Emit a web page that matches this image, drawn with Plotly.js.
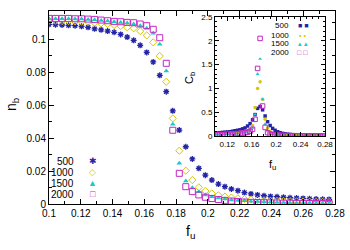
<!DOCTYPE html>
<html><head><meta charset="utf-8">
<script src="https://cdn.plot.ly/plotly-3.0.1.min.js"></script>
<style>html,body{margin:0;padding:0;background:#fff}#chart{width:350px;height:250px}</style>
</head><body><div id="chart"></div>
<script>
// f_u values (main plot and inset)
const fu = [0.1,0.1041,0.1082,0.1123,0.1164,0.1205,0.1246,0.1287,0.1328,0.1369,
            0.141,0.1451,0.1492,0.1533,0.1574,0.1615,0.1656,0.1697,0.1738,0.1779,
            0.182,0.1861,0.1902,0.1943,0.1984,0.2025,0.2066,0.2107,0.2148,0.2189,
            0.223,0.2271,0.2312,0.2353,0.2394,0.2435,0.2476,0.2517,0.2558,0.2599,
            0.264,0.2681,0.2722,0.2763];
// n_b for each size
const nb500 = [0.1089,0.1087,0.1085,0.1083,0.1081,0.1077,0.1071,0.1062,0.1056,0.1048,
               0.1041,0.1028,0.1012,0.0992,0.0962,0.0919,0.0861,0.0780,0.0681,0.0565,
               0.0448,0.0347,0.0273,0.0216,0.0175,0.0145,0.0121,0.0105,0.0091,0.0081,
               0.0069,0.0061,0.0055,0.0050,0.0046,0.0044,0.0041,0.0038,0.0036,0.0034,
               0.0032,0.0030,0.0029,0.0028];
const nb1000 = [0.1111,0.1111,0.1109,0.1109,0.1107,0.1105,0.1103,0.1099,0.1095,0.1091,
                0.1085,0.1079,0.1071,0.1065,0.1048,0.1022,0.0980,0.0897,0.0741,0.0519,
                0.0323,0.0202,0.0145,0.0101,0.0079,0.0064,0.0053,0.0045,0.0039,0.0034,
                0.0030,0.0027,0.0024,0.0022,0.0020,0.0019,0.0018,0.0017,0.0016,0.0015,
                0.0014,0.0013,0.0013,0.0012];
const nb1500 = [0.1123,0.1123,0.1123,0.1123,0.1121,0.1121,0.1119,0.1117,0.1113,0.1109,
                0.1105,0.1101,0.1097,0.1091,0.1081,0.1065,0.1035,0.0968,0.0806,0.0483,
                0.0247,0.0139,0.0099,0.0075,0.0055,0.0044,0.0036,0.0030,0.0025,0.0022,
                0.0019,0.0016,0.0015,0.0013,0.0012,0.0010,0.0009,0.0008,0.0008,0.0007,
                0.0007,0.0006,0.0006,0.0006];
const nb2000 = [0.1125,0.1125,0.1125,0.1125,0.1123,0.1123,0.1121,0.1119,0.1115,0.1111,
                0.1107,0.1105,0.1101,0.1099,0.1091,0.1081,0.1059,0.1008,0.0853,0.0447,
                0.0186,0.0105,0.0075,0.0055,0.0041,0.0033,0.0027,0.0022,0.0018,0.0015,
                0.0012,0.0010,0.0009,0.0008,0.0007,0.0006,0.0005,0.0005,0.0004,0.0004,
                0.0003,0.0003,0.0003,0.0003];
// C_b (inset)
const cb500 = [0.06,0.065,0.07,0.075,0.08,0.085,0.09,0.10,0.11,0.12,
               0.13,0.15,0.17,0.21,0.26,0.34,0.45,0.58,0.62,0.55,
               0.42,0.30,0.22,0.16,0.12,0.09,0.07,0.055,0.045,0.038,
               0.032,0.027,0.023,0.020,0.018,0.016,0.014,0.013,0.012,0.011,
               0.010,0.009,0.009,0.008];
const cb1000 = [0.04,0.042,0.045,0.048,0.05,0.053,0.056,0.06,0.065,0.07,
                0.077,0.085,0.095,0.11,0.14,0.22,0.60,1.00,1.14,0.77,
                0.35,0.17,0.09,0.06,0.045,0.035,0.028,0.023,0.019,0.016,
                0.014,0.012,0.011,0.010,0.009,0.008,0.007,0.007,0.006,0.006,
                0.005,0.005,0.005,0.004];
const cb1500 = [0.03,0.032,0.034,0.036,0.038,0.04,0.043,0.046,0.05,0.055,
                0.06,0.067,0.075,0.09,0.12,0.17,0.45,1.30,1.62,0.77,
                0.25,0.11,0.06,0.04,0.03,0.024,0.02,0.017,0.014,0.012,
                0.011,0.01,0.009,0.008,0.007,0.006,0.006,0.005,0.005,0.004,
                0.004,0.004,0.003,0.003];
const cb2000 = [0.025,0.027,0.029,0.031,0.033,0.035,0.038,0.041,0.045,0.05,
                0.055,0.06,0.068,0.08,0.10,0.14,0.35,1.42,2.05,0.63,
                0.18,0.07,0.04,0.03,0.022,0.018,0.015,0.012,0.01,0.009,
                0.008,0.007,0.006,0.005,0.005,0.004,0.004,0.003,0.003,0.003,
                0.002,0.002,0.002,0.002];
const sizes = ['500','1000','1500','2000'];
const mainX = 'f<sub>u</sub>', mainY = 'n<sub>b</sub>', insetY = 'C<sub>b</sub>';

const colors = ['#2424a8','#d8c600','#1ec8c8','#c426c4'];
const nbAll = [nb500, nb1000, nb1500, nb2000];
const cbAll = [cb500, cb1000, cb1500, cb2000];
const mainSym = [
  {symbol:'asterisk-open', size:5, lw:1.3},
  {symbol:'diamond-open', size:5.5, lw:1},
  {symbol:'triangle-up', size:5, lw:0},
  {symbol:'square-open', size:6, lw:1}
];
const insetSym = [
  {symbol:'square', size:3.5, lw:0},
  {symbol:'circle', size:3.5, lw:0},
  {symbol:'triangle-up', size:3.5, lw:0},
  {symbol:'square-open', size:4.5, lw:1}
];
const traces = [];
for (let k = 0; k < 4; k++) {
  traces.push({x: fu, y: nbAll[k], xaxis:'x', yaxis:'y', mode:'markers', name:sizes[k],
    marker:{symbol:mainSym[k].symbol, size:mainSym[k].size, color:colors[k],
            line:{color:colors[k], width:mainSym[k].lw}}});
}
for (let k = 0; k < 4; k++) {
  traces.push({x: fu, y: cbAll[k], xaxis:'x2', yaxis:'y2', mode:'markers', name:sizes[k],
    marker:{symbol:insetSym[k].symbol, size:insetSym[k].size, color:colors[k],
            line:{color:colors[k], width:insetSym[k].lw}}});
}

const ax = {showgrid:false, zeroline:false, showline:true, linecolor:'#000', linewidth:1,
  ticks:'inside', tickcolor:'#000', mirror:'allticks'};
function P(px){return (px-49)/286;}
function Q(py){return (204-py)/193;}
function A(text, px, py, opts){
  return Object.assign({text:text, x:P(px), y:Q(py), xref:'paper', yref:'paper',
    xanchor:'center', yanchor:'middle', showarrow:false}, opts);
}
const ann = [];
ann.push(A(mainY, 12, 104, {textangle:-90, font:{size:14}}));
ann.push(A(mainX, 190, 232, {font:{size:14}}));
ann.push(A(insetY, 190, 78, {textangle:-90, font:{size:11}}));
ann.push(A(mainX, 272, 165, {font:{size:11}}));
const legGlyph = ['✱','◇','▲','□'];
const legRows = [161, 172.3, 183.3, 194.3];
const insGlyph = ['■ ■','• •','▴ ▴','□ □'];
const insRows = [25.7, 35, 43.3, 52.3];
for (let k = 0; k < 4; k++) {
  ann.push(A(sizes[k], 76, legRows[k], {xanchor:'right', font:{size:10}}));
  ann.push(A(legGlyph[k], 92.7, legRows[k], {font:{size:9, color:colors[k]}}));
  ann.push(A(sizes[k], 291, insRows[k], {xanchor:'right', font:{size:8}}));
  ann.push(A(insGlyph[k], 302.5, insRows[k], {font:{size:7, color:colors[k]}}));
}

const layout = {
  width:350, height:250, margin:{l:49, r:15, t:11, b:46},
  paper_bgcolor:'#fff', plot_bgcolor:'#fff', showlegend:false,
  font:{family:'Liberation Sans, Arial, sans-serif', size:10, color:'#000'},
  xaxis:Object.assign({}, ax, {range:[0.1,0.28], tick0:0.1, dtick:0.02, ticklen:5, tickfont:{size:10},
    minor:{dtick:0.01, ticks:'inside', ticklen:3, tickcolor:'#000', showgrid:false}}),
  yaxis:Object.assign({}, ax, {range:[0,0.117], tick0:0, dtick:0.02, ticklen:5, tickfont:{size:10},
    minor:{dtick:0.01, ticks:'inside', ticklen:3, tickcolor:'#000', showgrid:false}}),
  xaxis2:Object.assign({}, ax, {domain:[P(215),P(325)], anchor:'y2', range:[0.1,0.28], tick0:0.12, dtick:0.04, ticklen:4, tickfont:{size:8},
    minor:{dtick:0.01, ticks:'inside', ticklen:2, tickcolor:'#000', showgrid:false}}),
  yaxis2:Object.assign({}, ax, {domain:[Q(136),Q(17)], anchor:'x2', range:[0,2.5], tick0:0, dtick:0.5, ticklen:4, tickfont:{size:8},
    minor:{dtick:0.1, ticks:'inside', ticklen:2, tickcolor:'#000', showgrid:false}}),
  annotations:ann
};
Plotly.newPlot('chart', traces, layout, {staticPlot:true, displayModeBar:false});
</script></body></html>
